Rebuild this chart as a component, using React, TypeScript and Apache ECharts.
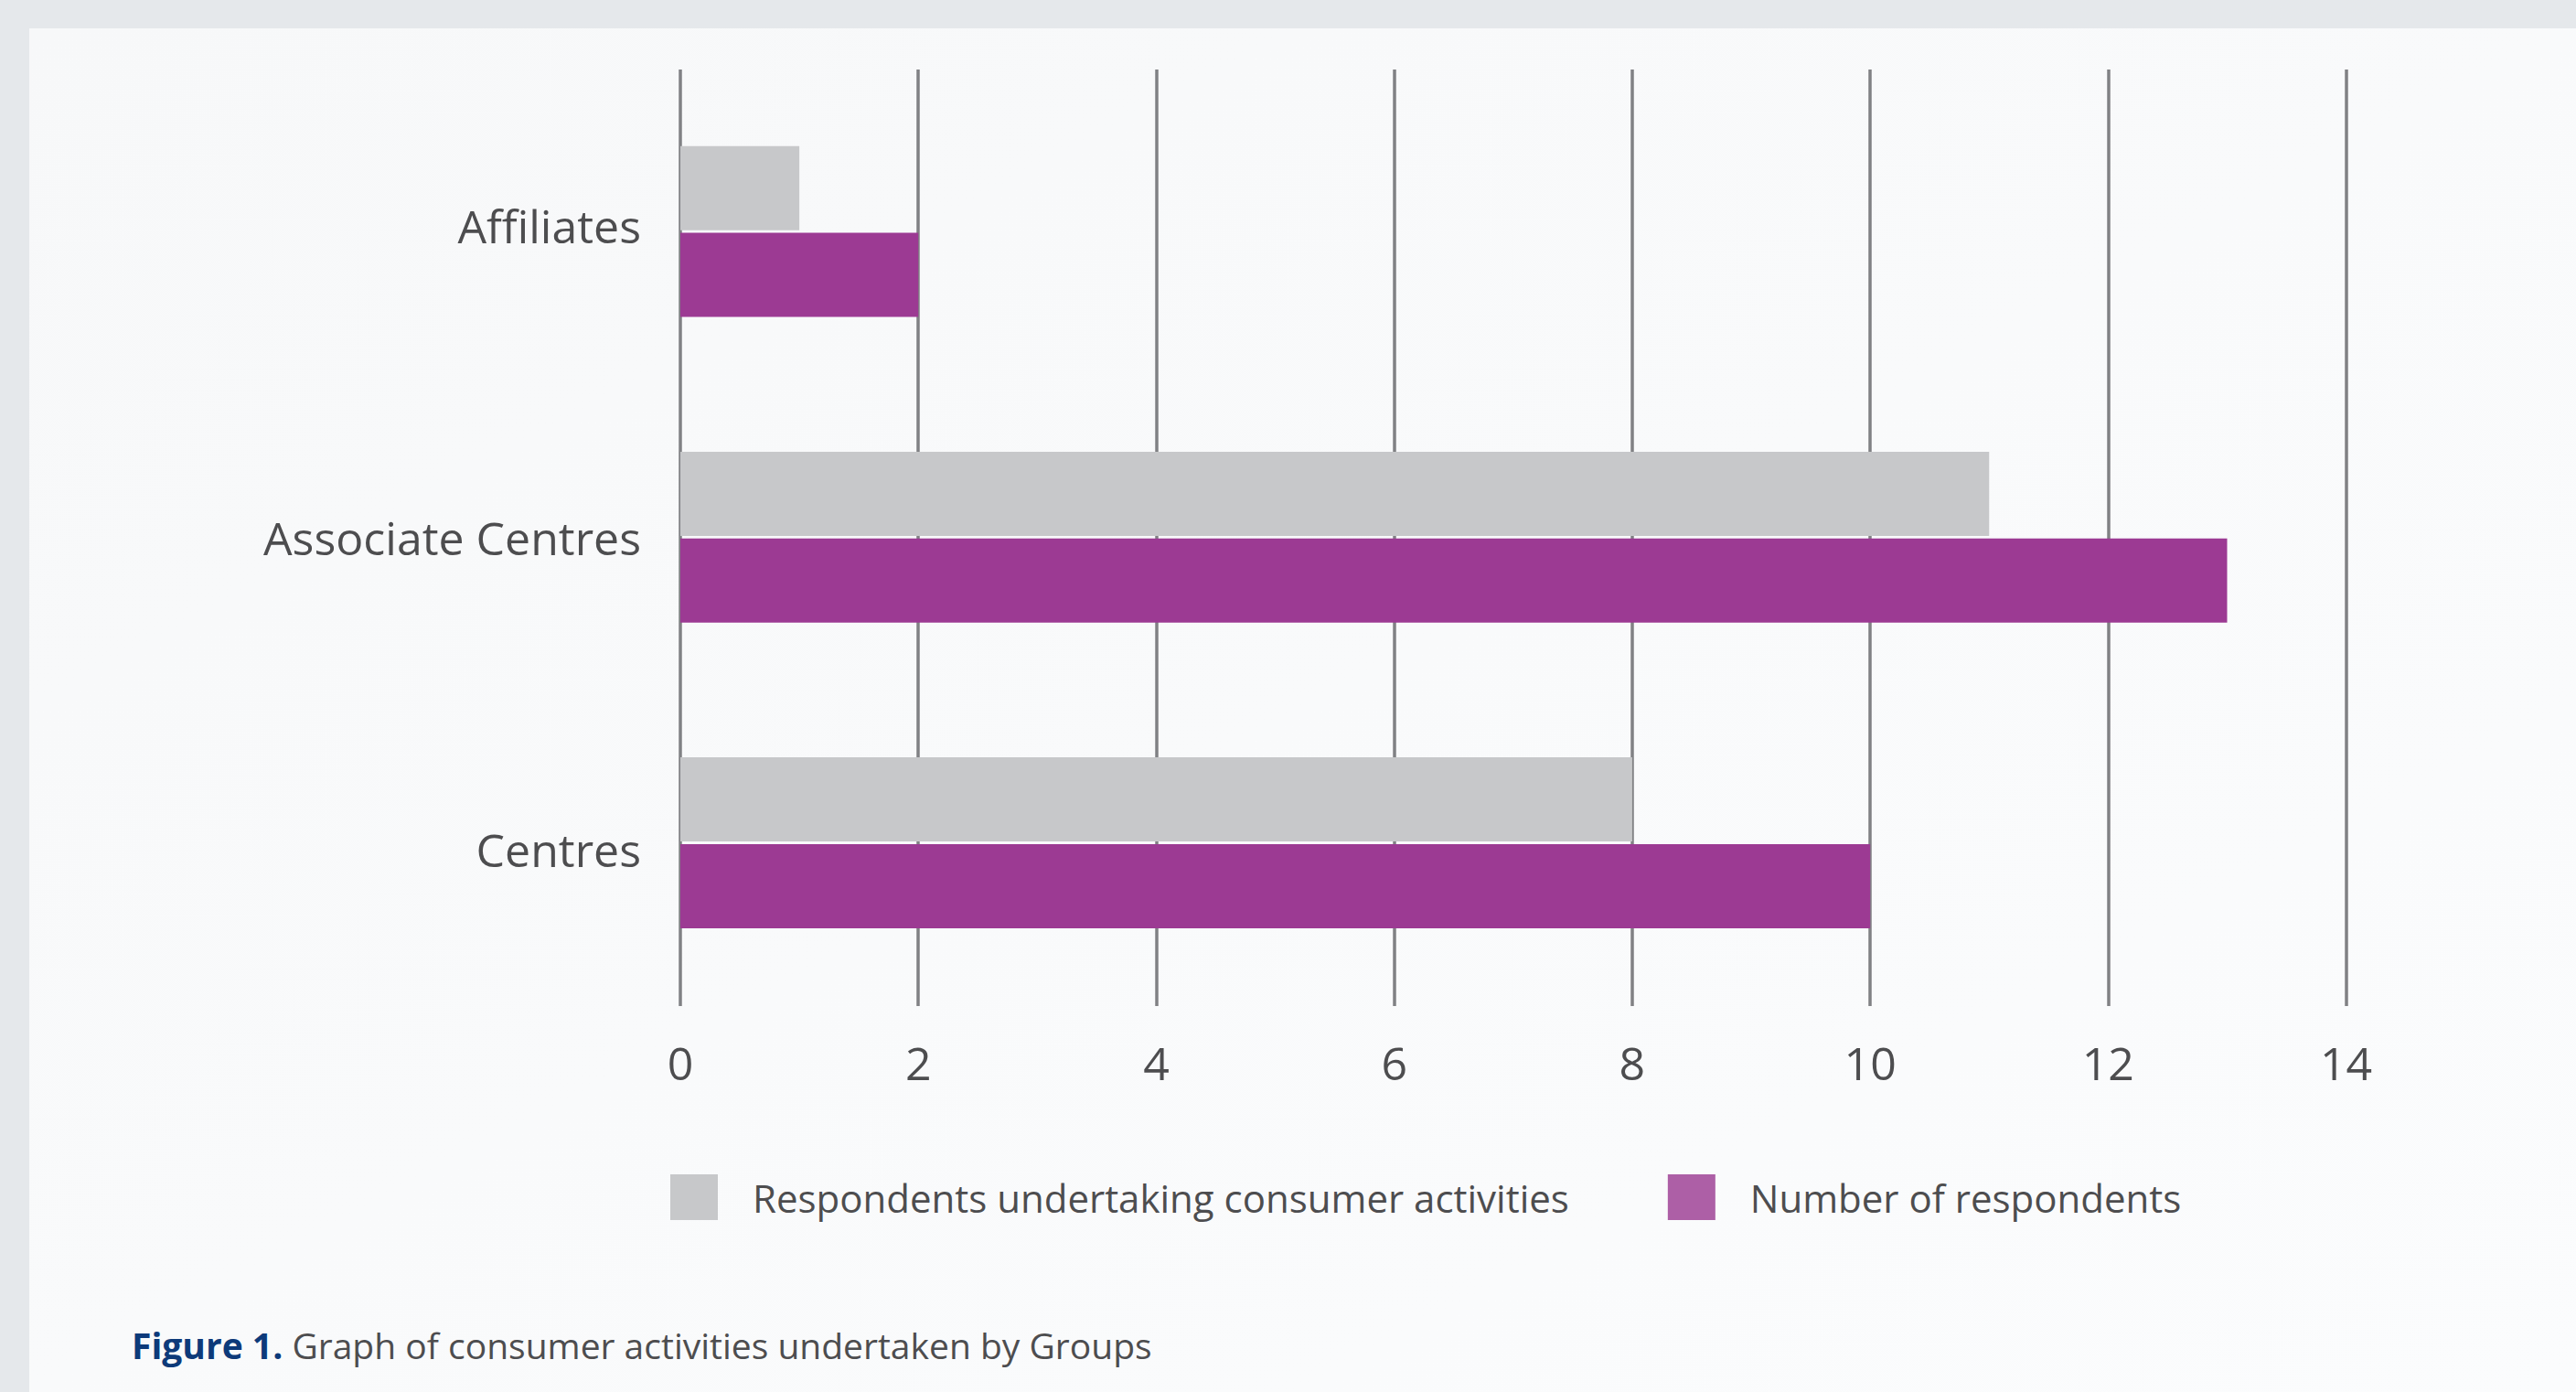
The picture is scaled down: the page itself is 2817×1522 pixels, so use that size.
import React, { useEffect, useRef } from 'react';
import * as echarts from 'echarts';

const categories = ['Affiliates', 'Associate Centres', 'Centres'];
const consumerActivities = [1, 11, 8];
const respondents = [2, 13, 10];
const seriesNames = ['Respondents undertaking consumer activities', 'Number of respondents'];
const xMin = 0;
const xMax = 14;
const xInterval = 2;
const captionBold = 'Figure 1.';
const captionText = 'Graph of consumer activities undertaken by Groups';

const FONT = '"Open Sans", Lato, sans-serif';
const TEXT = '#4d4d4f';
const GRAY = '#c7c8ca';
const PURPLE = '#9c3a93';

export default function App() {
  const ref = useRef<HTMLDivElement>(null);
  useEffect(() => {
    document.body.style.margin = '0';
    const chart = echarts.init(ref.current as HTMLDivElement, null, { renderer: 'svg' });
    chart.setOption({
      animation: false,
      backgroundColor: '#e5e8eb',
      graphic: [
        {
          type: 'rect',
          z: -10,
          shape: { x: 32, y: 31, width: 2817 - 32, height: 1522 - 31 },
          style: {
            fill: new echarts.graphic.LinearGradient(0, 0, 1, 1, [
              { offset: 0, color: '#f7f8f9' },
              { offset: 1, color: '#fbfcfd' },
            ]),
          },
          silent: true,
        },
      ],
      title: {
        text: `{b|${captionBold}} ${captionText}`,
        left: 144,
        top: 1448,
        padding: 0,
        textStyle: {
          fontFamily: FONT,
          fontSize: 39,
          fontWeight: 'normal',
          color: TEXT,
          lineHeight: 44,
          rich: {
            b: { fontFamily: FONT, fontSize: 39, fontWeight: 'bold', color: '#0d3a7a', lineHeight: 44 },
          },
        },
      },
      legend: {
        left: 733,
        top: 1284,
        padding: 0,
        itemWidth: 52,
        itemHeight: 50,
        itemGap: 108,
        icon: 'rect',
        data: [
          { name: seriesNames[0], itemStyle: { color: GRAY } },
          { name: seriesNames[1], itemStyle: { color: '#ad5fa6' } },
        ],
        textStyle: { fontFamily: FONT, fontSize: 42, color: TEXT, padding: [0, 0, 0, 33] },
      },
      grid: [
        { left: 744, right: 251.4, top: 76, bottom: 422, containLabel: false },
        { left: 744, right: 251.4, top: 86, bottom: 433.4, containLabel: false },
      ],
      xAxis: [
        {
          type: 'value',
          gridIndex: 0,
          min: xMin,
          max: xMax,
          interval: xInterval,
          axisLine: { show: false },
          axisTick: { show: false },
          axisLabel: { fontFamily: FONT, fontSize: 50, color: TEXT, margin: 37 },
          splitLine: { show: true, showMinLine: true, showMaxLine: true, lineStyle: { color: '#808184', width: 3.5 } },
        },
        {
          type: 'value',
          gridIndex: 1,
          min: xMin,
          max: xMax,
          interval: xInterval,
          show: false,
          splitLine: { show: false },
        },
      ],
      yAxis: [
        {
          type: 'category',
          gridIndex: 0,
          data: categories,
          inverse: true,
          axisLine: { show: false },
          axisTick: { show: false },
          axisLabel: { fontFamily: FONT, fontSize: 50, color: TEXT, margin: 43 },
          splitLine: { show: false },
        },
        {
          type: 'category',
          gridIndex: 1,
          data: categories,
          inverse: true,
          show: false,
          splitLine: { show: false },
        },
      ],
      series: [
        {
          name: seriesNames[0],
          type: 'bar',
          xAxisIndex: 1,
          yAxisIndex: 1,
          data: consumerActivities,
          barWidth: 92,
          barGap: '3%',
          itemStyle: { color: GRAY },
        },
        {
          name: seriesNames[1],
          type: 'bar',
          xAxisIndex: 1,
          yAxisIndex: 1,
          data: respondents,
          barWidth: 92,
          barGap: '3%',
          itemStyle: { color: PURPLE },
        },
      ],
    });
    return () => chart.dispose();
  }, []);
  return <div ref={ref} style={{ position: 'absolute', left: 0, top: 0, width: 2817, height: 1522 }} />;
}
